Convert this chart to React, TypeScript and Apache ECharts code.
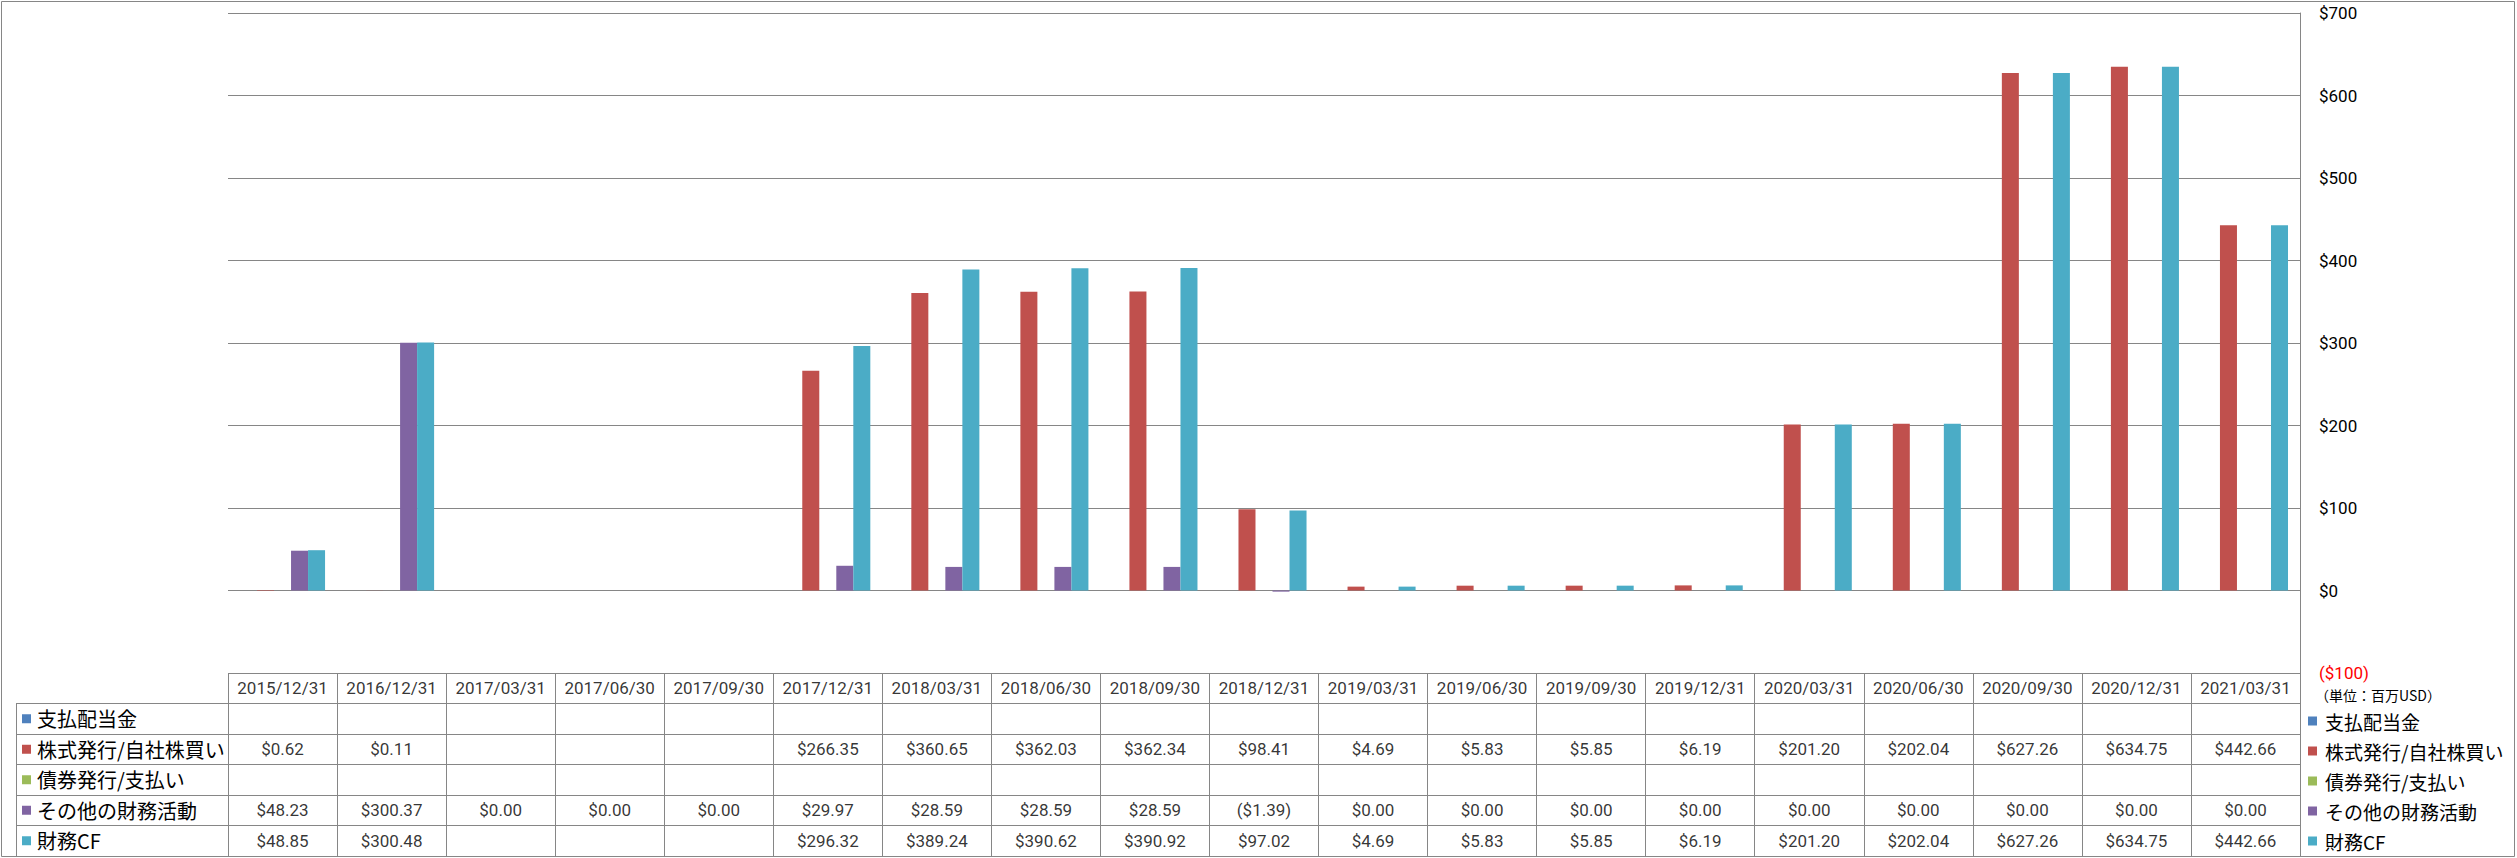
import React, { useEffect, useRef } from 'react';
import * as echarts from 'echarts';

const categories = [
  '2015/12/31', '2016/12/31', '2017/03/31', '2017/06/30', '2017/09/30',
  '2017/12/31', '2018/03/31', '2018/06/30', '2018/09/30', '2018/12/31',
  '2019/03/31', '2019/06/30', '2019/09/30', '2019/12/31', '2020/03/31',
  '2020/06/30', '2020/09/30', '2020/12/31', '2021/03/31',
];

const seriesNames = ['支払配当金', '株式発行/自社株買い', '債券発行/支払い', 'その他の財務活動', '財務CF'];
const seriesColors = ['#4F81BD', '#C0504D', '#9BBB59', '#8064A2', '#4BACC6'];

const dividendsPaid: (number | null)[] = [
  null, null, null, null, null, null, null, null, null, null,
  null, null, null, null, null, null, null, null, null,
];
const stockIssuance: (number | null)[] = [
  0.62, 0.11, null, null, null, 266.35, 360.65, 362.03, 362.34, 98.41,
  4.69, 5.83, 5.85, 6.19, 201.2, 202.04, 627.26, 634.75, 442.66,
];
const debtIssuance: (number | null)[] = [
  null, null, null, null, null, null, null, null, null, null,
  null, null, null, null, null, null, null, null, null,
];
const otherFinancing: (number | null)[] = [
  48.23, 300.37, 0, 0, 0, 29.97, 28.59, 28.59, 28.59, -1.39,
  0, 0, 0, 0, 0, 0, 0, 0, 0,
];
const financingCF: (number | null)[] = [
  48.85, 300.48, null, null, null, 296.32, 389.24, 390.62, 390.92, 97.02,
  4.69, 5.83, 5.85, 6.19, 201.2, 202.04, 627.26, 634.75, 442.66,
];

const seriesValues = [dividendsPaid, stockIssuance, debtIssuance, otherFinancing, financingCF];

const Y_MIN = -100;
const Y_MAX = 700;
const Y_STEP = 100;
const unitLabel = '（単位：百万USD）';

const W = 2517;
const H = 858;
const PLOT_LEFT = 228;
const PLOT_RIGHT = 2300;
const PLOT_TOP = 13;
const TABLE_TOP = 673;
const TABLE_BOTTOM = 856;
const ROW_H = (TABLE_BOTTOM - TABLE_TOP) / 6;
const LEGEND_COL_LEFT = 16;

const GRAY = '#868686';
const LATIN = 'Roboto, "Liberation Sans", sans-serif';
const CJK = '"Noto Sans CJK JP", "Noto Sans", sans-serif';

function fmtMoney(v: number): string {
  if (v < 0) return '($' + (-v).toFixed(2) + ')';
  return '$' + v.toFixed(2);
}

function fmtAxis(v: number): string {
  if (v < 0) return '{neg|($' + (-v) + ')}';
  return '$' + v;
}

export default function App() {
  const ref = useRef<HTMLDivElement>(null);

  useEffect(() => {
    if (!ref.current) return;
    const chart = echarts.init(ref.current, undefined, { renderer: 'svg' });

    const rowNames = ['', ...seriesNames];
    const tableData: any[] = [];
    categories.forEach((c, i) => tableData.push([i, 0, c]));
    seriesValues.forEach((vals, r) => {
      vals.forEach((v, i) => {
        if (v !== null && v !== undefined) tableData.push([i, r + 1, fmtMoney(v)]);
      });
    });

    const rich: any = {
      t: { fontSize: 20, fontFamily: CJK, color: '#000', padding: [0, 0, 0, 6] },
    };
    seriesColors.forEach((col, i) => {
      rich['s' + i] = { width: 9, height: 9, backgroundColor: col };
    });

    const option: any = {
      animation: false,
      backgroundColor: '#fff',
      grid: [
        { left: PLOT_LEFT, right: W - PLOT_RIGHT, top: PLOT_TOP, height: TABLE_TOP - PLOT_TOP },
        { left: PLOT_LEFT, right: W - PLOT_RIGHT, top: TABLE_TOP, height: TABLE_BOTTOM - TABLE_TOP },
      ],
      legend: {
        data: seriesNames,
        orient: 'vertical',
        left: 2308,
        top: 711,
        padding: 0,
        icon: 'rect',
        itemWidth: 9,
        itemHeight: 9,
        itemGap: 10,
        selectedMode: false,
        textStyle: { fontSize: 19, fontFamily: CJK, color: '#000', lineHeight: 20, padding: [0, 0, 0, 3] },
      },
      xAxis: [
        {
          type: 'category',
          gridIndex: 0,
          data: categories,
          show: false,
        },
        {
          type: 'category',
          gridIndex: 1,
          data: categories,
          axisLine: { show: false },
          axisTick: { show: false },
          axisLabel: { show: false },
          splitLine: { show: true, interval: 0, lineStyle: { color: GRAY, width: 1 } },
        },
      ],
      yAxis: [
        {
          type: 'value',
          gridIndex: 0,
          position: 'right',
          min: Y_MIN,
          max: Y_MAX,
          interval: Y_STEP,
          axisLine: { show: true, lineStyle: { color: GRAY, width: 1 } },
          axisTick: { show: false },
          splitLine: { show: true, lineStyle: { color: GRAY, width: 1 } },
          axisLabel: {
            margin: 19,
            fontSize: 17,
            fontFamily: LATIN,
            color: '#000',
            formatter: fmtAxis,
            rich: { neg: { fontSize: 17, fontFamily: LATIN, color: '#FF0000' } },
          },
        },
        {
          type: 'category',
          gridIndex: 1,
          data: rowNames,
          inverse: true,
          axisLine: { show: false },
          axisTick: {
            show: true,
            length: PLOT_LEFT - LEGEND_COL_LEFT,
            interval: (i: number) => i !== 0,
            lineStyle: { color: GRAY, width: 1 },
          },
          splitLine: { show: true, interval: 0, lineStyle: { color: GRAY, width: 1 } },
          axisLabel: {
            show: true,
            interval: 0,
            margin: PLOT_LEFT - 22,
            align: 'left',
            formatter: (value: string, index: number) =>
              index === 0 ? '' : '{s' + (index - 1) + '| }{t|' + value + '}',
            rich,
          },
        },
      ],
      graphic: [
        {
          type: 'rect',
          shape: { x: 1.5, y: 1.5, width: W - 4, height: H - 3 },
          style: { fill: 'none', stroke: GRAY, lineWidth: 1 },
          silent: true,
        },
        {
          type: 'line',
          shape: { x1: LEGEND_COL_LEFT + 0.5, y1: TABLE_TOP + ROW_H, x2: LEGEND_COL_LEFT + 0.5, y2: TABLE_BOTTOM },
          style: { stroke: GRAY, lineWidth: 1 },
          silent: true,
        },
        {
          type: 'text',
          x: 2315,
          y: 695,
          style: {
            text: unitLabel,
            fontSize: 14,
            fontFamily: CJK,
            fill: '#000',
            textVerticalAlign: 'middle',
            verticalAlign: 'middle',
          },
          silent: true,
        },
      ],
      series: [
        ...seriesNames.map((name, i) => ({
          name,
          type: 'bar',
          xAxisIndex: 0,
          yAxisIndex: 0,
          data: seriesValues[i],
          barGap: '0%',
          barCategoryGap: '22%',
          itemStyle: { color: seriesColors[i] },
        })),
        {
          type: 'scatter',
          xAxisIndex: 1,
          yAxisIndex: 1,
          symbolSize: 1,
          itemStyle: { color: 'rgba(0,0,0,0)' },
          silent: true,
          data: tableData,
          label: {
            show: true,
            position: 'inside',
            formatter: (p: any) => p.value[2],
            fontSize: 17,
            fontFamily: LATIN,
            color: '#000',
          },
        },
      ],
    };

    chart.setOption(option);
    return () => chart.dispose();
  }, []);

  return (
    <div
      ref={ref}
      style={{ position: 'absolute', left: 0, top: 0, width: W, height: H, background: '#fff' }}
    />
  );
}
